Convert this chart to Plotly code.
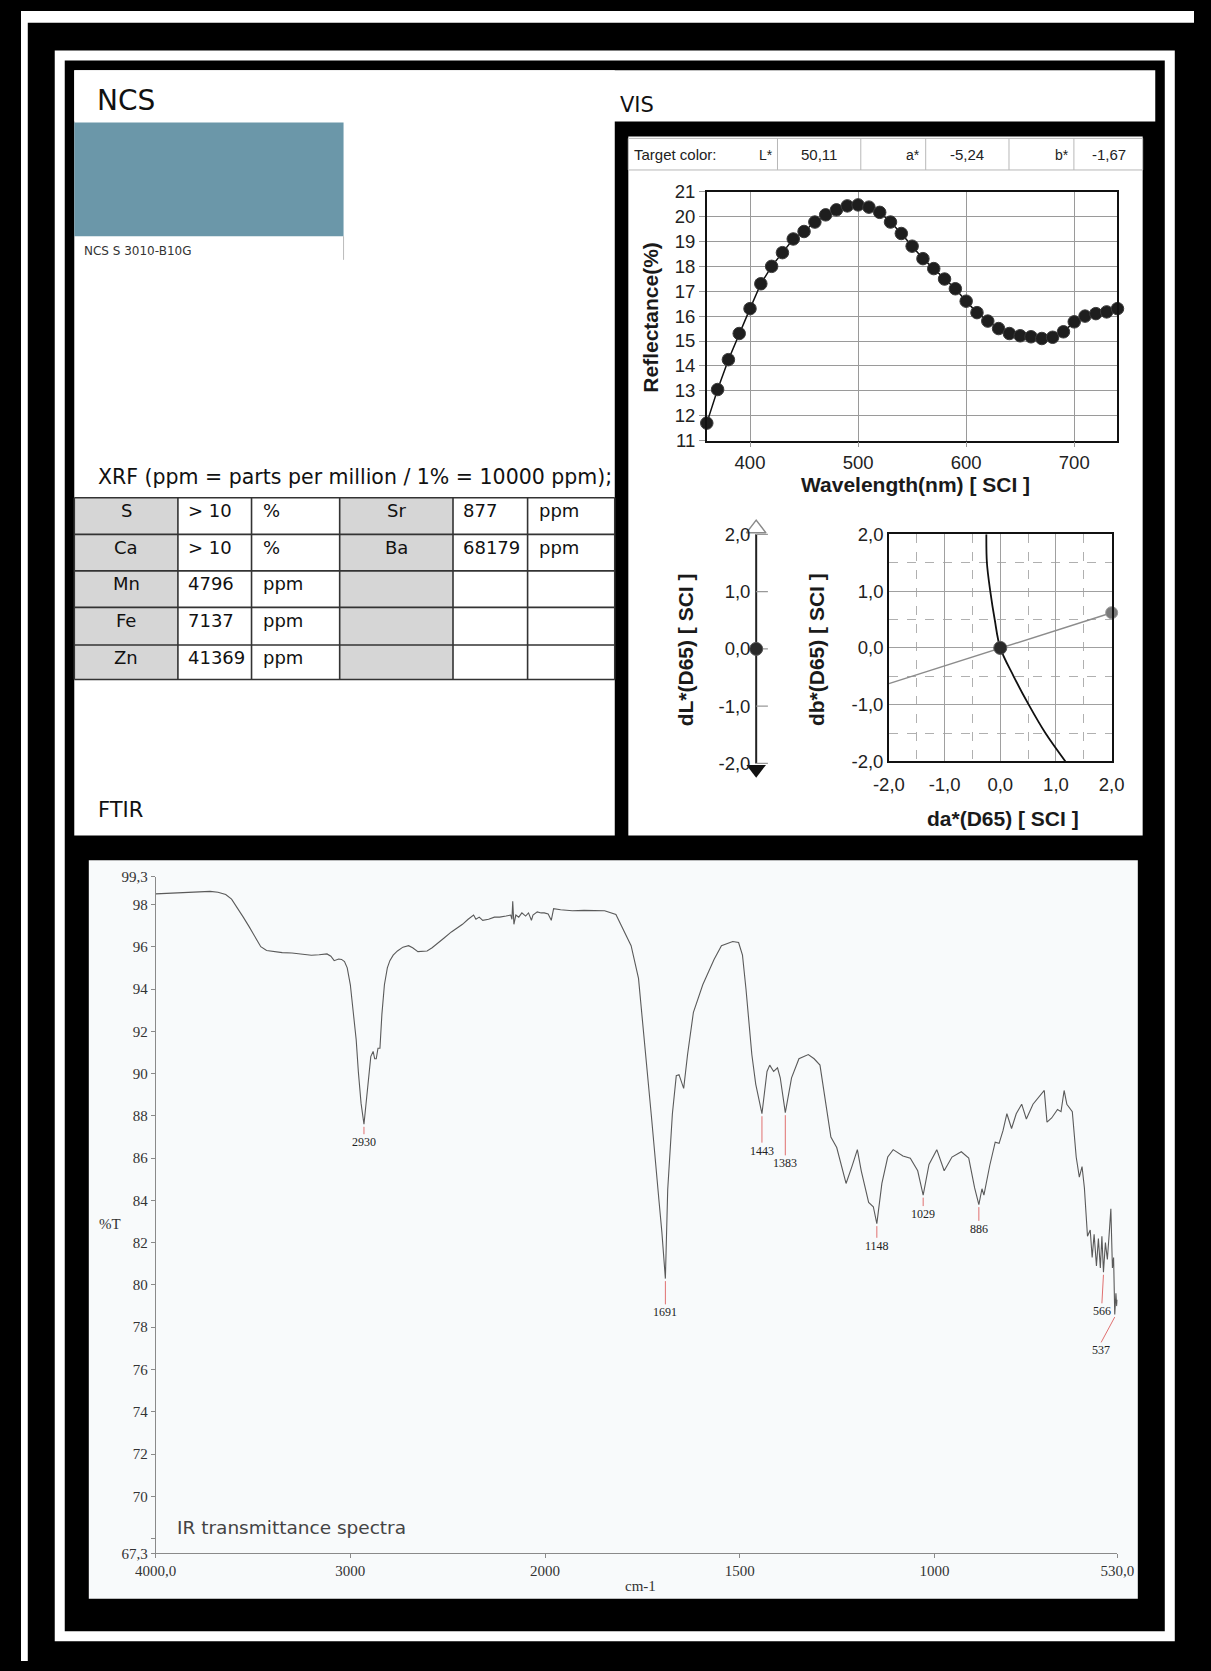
import plotly.graph_objects as go

W, H = 1211, 1671

# ---------------- data ----------------
ncs_code = "NCS S 3010-B10G"
xrf_title = "XRF (ppm = parts per million / 1% = 10000 ppm);"
xrf_elem_a = ["S", "Ca", "Mn", "Fe", "Zn"]
xrf_val_a = ["> 10", "> 10", "4796", "7137", "41369"]
xrf_unit_a = ["%", "%", "ppm", "ppm", "ppm"]
xrf_elem_b = ["Sr", "Ba", "", "", ""]
xrf_val_b = ["877", "68179", "", "", ""]
xrf_unit_b = ["ppm", "ppm", "", "", ""]

target_labels = ["L*", "a*", "b*"]
target_values = ["50,11", "-5,24", "-1,67"]

vis_wavelength = [360, 370, 380, 390, 400, 410, 420, 430, 440, 450, 460, 470, 480,
                  490, 500, 510, 520, 530, 540, 550, 560, 570, 580, 590, 600, 610,
                  620, 630, 640, 650, 660, 670, 680, 690, 700, 710, 720, 730, 740]
vis_reflectance = [11.7, 13.05, 14.25, 15.3, 16.3, 17.3, 18.0, 18.55, 19.1, 19.4,
                   19.78, 20.07, 20.27, 20.43, 20.47, 20.38, 20.17, 19.78, 19.32, 18.81,
                   18.31, 17.91, 17.49, 17.1, 16.6, 16.14, 15.8, 15.5, 15.3, 15.21,
                   15.17, 15.1, 15.15, 15.37, 15.77, 16.0, 16.1, 16.17, 16.3]

dL_value = [0.0]
da_value = [0.0]
db_value = [0.0]
hue_da = [-2.0, 2.0]
hue_db = [-0.63, 0.62]
chroma_da = [-0.25, -0.24, -0.18, -0.10, 0.0, 0.24, 0.51, 0.81, 1.17]
chroma_db = [2.0, 1.5, 1.0, 0.5, 0.0, -0.5, -1.0, -1.5, -2.0]
delta_ticks = [-2, -1, 0, 1, 2]
delta_ticktext = ["-2,0", "-1,0", "0,0", "1,0", "2,0"]

ftir_wn = [4000, 3900, 3800, 3720, 3680, 3640, 3610, 3580, 3550, 3520, 3490, 3460, 3430,
           3400, 3350, 3300, 3250, 3200, 3160, 3120, 3100, 3083, 3060, 3045, 3030, 3016,
           3000, 2988, 2970, 2959, 2945, 2930, 2918, 2906, 2895, 2883, 2875, 2867, 2858,
           2848, 2838, 2825, 2810, 2797, 2780, 2758, 2730, 2701, 2680, 2653, 2630, 2606,
           2580, 2558, 2520, 2481, 2450, 2424, 2395, 2367, 2355, 2338, 2320, 2290, 2260,
           2233, 2200, 2176, 2170, 2166, 2160, 2150, 2135, 2119, 2100, 2085, 2070, 2062,
           2040, 2020, 2004, 1992, 1984, 1978, 1960, 1930, 1900, 1870, 1847, 1818, 1799,
           1779, 1760, 1745, 1726, 1707, 1700, 1691, 1685, 1673, 1663, 1656, 1650, 1644,
           1634, 1619, 1595, 1566, 1547, 1518, 1503, 1493, 1484, 1469, 1459, 1447, 1443,
           1430, 1423, 1413, 1403, 1396, 1383, 1367, 1348, 1324, 1309, 1294, 1280, 1266,
           1251, 1227, 1212, 1198, 1188, 1169, 1157, 1148, 1135, 1120, 1106, 1081, 1062,
           1043, 1029, 1014, 994, 975, 955, 931, 912, 897, 886, 878, 873, 858, 844, 834,
           824, 814, 802, 790, 776, 764, 747, 732, 718, 711, 699, 684, 675, 667, 660, 646,
           636, 628, 621, 615, 607, 600, 595, 590, 584, 579, 574, 570, 566, 561, 556, 551,
           547, 543, 540, 537, 534, 532, 530]
ftir_T = [98.5, 98.55, 98.6, 98.62, 98.58, 98.47, 98.25, 97.85, 97.4, 96.95, 96.5, 96.0, 95.82,
          95.77, 95.72, 95.7, 95.66, 95.6, 95.62, 95.66, 95.55, 95.34, 95.42, 95.4, 95.3, 95.0,
          94.2, 93.2, 91.6, 90.1, 88.6, 87.6, 88.8, 89.8, 90.8, 91.05, 90.7, 90.7, 91.2,
          91.2, 92.8, 94.2, 95.0, 95.34, 95.6, 95.8, 95.98, 96.05, 95.95, 95.77, 95.8, 95.8,
          95.95, 96.1, 96.4, 96.7, 96.9, 97.06, 97.3, 97.5, 97.3, 97.4, 97.25, 97.3, 97.4,
          97.4, 97.45, 97.5, 97.3, 98.15, 97.06, 97.5, 97.4, 97.6, 97.45, 97.6, 97.25, 97.5,
          97.65, 97.6, 97.6, 97.55, 97.25, 97.8, 97.75, 97.7, 97.72, 97.7, 97.7, 97.53, 96.8,
          96.05, 94.5, 91.7, 87.8, 83.9, 82.5, 80.3, 84.5, 88.1, 89.9, 89.95, 89.6, 89.3,
          90.9, 92.9, 94.2, 95.4, 96.05, 96.25, 96.2, 95.6, 94.0, 90.9, 89.5, 88.4, 88.1,
          90.1, 90.4, 90.1, 90.27, 89.8, 88.15, 89.8, 90.7, 90.9, 90.7, 90.4, 88.7, 87.0,
          86.5, 84.8, 85.6, 86.4, 85.4, 83.9, 83.7, 82.9, 84.8, 86.05, 86.4, 86.1, 86.0,
          85.4, 84.25, 85.7, 86.4, 85.4, 86.05, 86.3, 86.0, 84.6, 83.8, 84.55, 84.25, 85.65,
          86.75, 86.7, 87.3, 88.1, 87.4, 88.1, 88.55, 87.85, 88.55, 88.86, 89.2, 87.7, 87.9,
          88.3, 88.2, 89.2, 88.55, 88.2, 86.05, 85.1, 85.6, 84.6, 82.3, 82.6, 81.3, 82.4,
          80.9, 82.2, 80.8, 82.3, 80.6, 82.0, 81.2, 82.5, 83.6, 80.8, 81.3, 78.6, 79.6, 79.0,
          79.3]
peak_wn = [2930, 1691, 1443, 1383, 1148, 1029, 886, 566, 537]
peak_T = [87.6, 80.3, 88.1, 88.15, 82.9, 84.25, 83.8, 80.6, 78.6]
peak_label_wn = [2930, 1691, 1443, 1383, 1148, 1029, 886, 570, 572]
peak_label_T = [86.75, 78.7, 86.35, 85.75, 81.85, 83.35, 82.65, 78.75, 76.9]

ftir_xticks = [4000, 3000, 2000, 1500, 1000, 530]
ftir_xticktext = ["4000,0", "3000", "2000", "1500", "1000", "530,0"]
ftir_yticks = [67.3, 68, 70, 72, 74, 76, 78, 80, 82, 84, 86, 88, 90, 92, 94, 96, 98, 99.3]
ftir_yticktext = ["67,3", "", "70", "72", "74", "76", "78", "80", "82", "84", "86", "88",
                  "90", "92", "94", "96", "98", "99,3"]


# ---------------- helpers ----------------
def px(x):
    return x / W


def py(y):
    return 1 - y / H


def wn_to_u(wn):
    # FTIR abscissa: scale doubles below 2000 cm-1
    if wn is None:
        return None
    return 4000 - wn if wn >= 2000 else 2000 + 2 * (2000 - wn)


shapes = []
annotations = []


def rect(x0, y0, x1, y1, fill, line_color=None, lw=0):
    shapes.append(dict(type="rect", xref="paper", yref="paper", layer="below",
                       x0=px(x0), x1=px(x1), y0=py(y1), y1=py(y0),
                       fillcolor=fill, line=dict(width=lw, color=line_color or "rgba(0,0,0,0)")))


def seg(x0, y0, x1, y1, color, lw=1, dash="solid"):
    shapes.append(dict(type="line", xref="paper", yref="paper", layer="below",
                       x0=px(x0), x1=px(x1), y0=py(y0), y1=py(y1),
                       line=dict(width=lw, color=color, dash=dash)))


def txt(x, y, s, size, color="#111", family="DejaVu Sans", xanchor="left", angle=0, bold=False):
    annotations.append(dict(x=px(x), y=py(y), xref="paper", yref="paper",
                            text=f"<b>{s}</b>" if bold else s, showarrow=False,
                            font=dict(size=size, color=color, family=family),
                            xanchor=xanchor, yanchor="middle", textangle=angle,
                            borderpad=0))


# ---------------- background panels ----------------
rect(0, 0, W, 12, "white")
rect(0, 0, 7, H, "white")
shapes.append(dict(type="rect", xref="paper", yref="paper", layer="below",
                   x0=px(40), x1=px(1186), y0=py(1646), y1=py(45),
                   fillcolor="rgba(0,0,0,0)", line=dict(width=10, color="white")))
rect(55, 60, 613, 835, "white")
rect(55, 60, 1171, 112, "white")
rect(627, 127, 1158, 835, "white")
rect(70, 860, 1153, 1608, "#f8fafb")

# NCS swatch
rect(55, 113, 333, 228, "#6b97a9")
seg(333, 228, 333, 252, "#bbbbbb", 1)
txt(77, 91, "NCS", 28)
txt(64, 243, ncs_code, 12, "#333")
txt(617, 95, "VIS", 21)

# XRF table
txt(78, 472, xrf_title, 20.5)
row_tops = [493, 530, 567, 604, 642, 677]
col_edges = [55, 162, 238, 329, 446, 523, 613]
rect(col_edges[0], row_tops[0], col_edges[1], row_tops[-1], "#d6d6d6")
rect(col_edges[3], row_tops[0], col_edges[4], row_tops[-1], "#d6d6d6")
for yy in row_tops:
    seg(55, yy, 613, yy, "#333", 1.6)
for xx in col_edges:
    seg(xx, row_tops[0], xx, row_tops[-1], "#333", 1.6)
for i in range(5):
    ty = row_tops[i] + 13
    txt((col_edges[0] + col_edges[1]) / 2, ty, xrf_elem_a[i], 18, "#111", xanchor="center")
    txt(col_edges[1] + 9, ty, xrf_val_a[i], 18, "#111")
    txt(col_edges[2] + 11, ty, xrf_unit_a[i], 18, "#111")
    if xrf_elem_b[i]:
        txt((col_edges[3] + col_edges[4]) / 2, ty, xrf_elem_b[i], 18, "#111", xanchor="center")
        txt(col_edges[4] + 9, ty, xrf_val_b[i], 18, "#111")
        txt(col_edges[5] + 11, ty, xrf_unit_b[i], 18, "#111")
txt(78, 809, "FTIR", 21)

# Target color table
rect(627, 129, 1158, 161, "white", "#b8b8b8", 1)
for xx in [781, 867, 934, 1020, 1087]:
    seg(xx, 129, xx, 161, "#b8b8b8", 1)
AR = "Liberation Sans"
txt(632, 145, "Target color:", 15, "#222", AR)
lab_right = [777, 929, 1083]
val_center = [824, 977, 1123]
for k in range(3):
    txt(lab_right[k], 146, target_labels[k], 14, "#222", AR, xanchor="right")
    txt(val_center[k], 145, target_values[k], 15, "#222", AR, xanchor="center")

# axis titles (VIS)
txt(650, 310, "Reflectance(%)", 21, "#1a1a1a", AR, xanchor="center", angle=-90, bold=True)
txt(923, 480, "Wavelength(nm) [ SCI ]", 21, "#1a1a1a", AR, xanchor="center", bold=True)
txt(686, 647, "dL*(D65) [ SCI ]", 21, "#1a1a1a", AR, xanchor="center", angle=-90, bold=True)
txt(822, 647, "db*(D65) [ SCI ]", 21, "#1a1a1a", AR, xanchor="center", angle=-90, bold=True)
txt(1014, 818, "da*(D65) [ SCI ]", 21, "#1a1a1a", AR, xanchor="center", bold=True)

# FTIR texts
TM = "Liberation Serif"
txt(80, 1228, "%T", 15, "#333", TM)
txt(640, 1595, "cm-1", 15, "#333", TM, xanchor="center")
txt(160, 1536, "IR transmittance spectra", 18.5, "#444")

fig = go.Figure()

# ---------------- VIS reflectance ----------------
fig.add_trace(go.Scatter(x=vis_wavelength, y=vis_reflectance, mode="lines+markers",
                         line=dict(color="#111", width=1.5),
                         marker=dict(size=12.5, color="#1e1e1e", line=dict(color="#3a3a3a", width=1)),
                         cliponaxis=False, xaxis="x", yaxis="y", showlegend=False))

# ---------------- dL scale ----------------
fig.add_trace(go.Scatter(x=[0, 0], y=[-2, 2], mode="lines", line=dict(color="#222", width=2),
                         xaxis="x2", yaxis="y2", showlegend=False, cliponaxis=False))
tick_x, tick_y = [], []
for t in delta_ticks:
    tick_x += [0, 0.55, None]
    tick_y += [t, t, None]
fig.add_trace(go.Scatter(x=tick_x, y=tick_y, mode="lines", line=dict(color="#999", width=1.2),
                         xaxis="x2", yaxis="y2", showlegend=False, cliponaxis=False))
fig.add_trace(go.Scatter(x=[0], y=[2.1], mode="markers",
                         marker=dict(symbol="triangle-up", size=17, color="white",
                                     line=dict(color="#8a8a8a", width=1.5)),
                         xaxis="x2", yaxis="y2", showlegend=False, cliponaxis=False))
fig.add_trace(go.Scatter(x=[0], y=[-2.1], mode="markers",
                         marker=dict(symbol="triangle-down", size=17, color="#111"),
                         xaxis="x2", yaxis="y2", showlegend=False, cliponaxis=False))
fig.add_trace(go.Scatter(x=[0 for _ in dL_value], y=dL_value, mode="markers",
                         marker=dict(size=13, color="#2a2a2a", line=dict(color="#555", width=1)),
                         xaxis="x2", yaxis="y2", showlegend=False, cliponaxis=False))

# ---------------- da/db plane ----------------
fig.add_trace(go.Scatter(x=hue_da, y=hue_db, mode="lines", line=dict(color="#8c8c8c", width=1.5),
                         xaxis="x3", yaxis="y3", showlegend=False))
fig.add_trace(go.Scatter(x=chroma_da, y=chroma_db, mode="lines", line=dict(color="#111", width=1.8, shape="spline"),
                         xaxis="x3", yaxis="y3", showlegend=False))
fig.add_trace(go.Scatter(x=[hue_da[-1]], y=[hue_db[-1]], mode="markers",
                         marker=dict(size=12, color="#7a7a7a", line=dict(color="#999", width=1)),
                         xaxis="x3", yaxis="y3", showlegend=False, cliponaxis=False))
fig.add_trace(go.Scatter(x=[0], y=[2.07], mode="markers",
                         marker=dict(symbol="triangle-up", size=16, color="#d4d4dc",
                                     line=dict(color="#999", width=1.2)),
                         xaxis="x3", yaxis="y3", showlegend=False, cliponaxis=False))
fig.add_trace(go.Scatter(x=[0, -2.08, 2.1], y=[-2.1, 0, 0], mode="markers",
                         marker=dict(symbol=["triangle-down", "triangle-left", "triangle-right"],
                                     size=17, color="#111"),
                         xaxis="x3", yaxis="y3", showlegend=False, cliponaxis=False))
fig.add_trace(go.Scatter(x=da_value, y=db_value, mode="markers",
                         marker=dict(size=13, color="#2a2a2a", line=dict(color="#555", width=1)),
                         xaxis="x3", yaxis="y3", showlegend=False, cliponaxis=False))

# ---------------- FTIR ----------------
fig.add_trace(go.Scatter(x=[wn_to_u(w) for w in ftir_wn], y=ftir_T, mode="lines",
                         line=dict(color="#5a5a5a", width=1.1),
                         xaxis="x4", yaxis="y4", showlegend=False))
lx, ly = [], []
for w, t, lw_, lt in zip(peak_wn, peak_T, peak_label_wn, peak_label_T):
    lx += [wn_to_u(w), wn_to_u(lw_), None]
    ly += [t - 0.12, lt + 0.38, None]
fig.add_trace(go.Scatter(x=lx, y=ly, mode="lines", line=dict(color="#e07070", width=1),
                         xaxis="x4", yaxis="y4", showlegend=False))
for w, lw_, lt in zip(peak_wn, peak_label_wn, peak_label_T):
    annotations.append(dict(x=wn_to_u(lw_), y=lt, xref="x4", yref="y4", text=str(w),
                            showarrow=False, font=dict(size=12, color="#222", family=TM),
                            xanchor="center", yanchor="middle"))

tickfont_ar = dict(family=AR, size=18.5, color="#222")
tickfont_tm = dict(family=TM, size=15, color="#333")

fig.update_layout(
    width=W, height=H, autosize=False,
    margin=dict(l=0, r=0, t=0, b=0),
    paper_bgcolor="black", plot_bgcolor="rgba(0,0,0,0)",
    shapes=shapes, annotations=annotations,
    xaxis=dict(domain=[px(708), px(1132)], range=[360, 740], tickvals=[400, 500, 600, 700],
               showgrid=True, gridcolor="#9a9a9a", gridwidth=1, zeroline=False,
               showline=True, mirror=True, linecolor="#111", linewidth=1.5,
               ticks="outside", ticklen=5, tickcolor="#999", tickfont=tickfont_ar,
               anchor="y"),
    yaxis=dict(domain=[py(435), py(183)], range=[11, 21], dtick=1,
               showgrid=True, gridcolor="#9a9a9a", gridwidth=1, zeroline=False,
               showline=True, mirror=True, linecolor="#111", linewidth=1.5,
               ticks="outside", ticklen=6, tickcolor="#999", tickfont=tickfont_ar,
               anchor="x"),
    xaxis2=dict(domain=[px(737), px(781)], range=[-1, 1], visible=False, anchor="y2"),
    yaxis2=dict(domain=[py(646 + 2.3 * 58), py(646 - 2.3 * 58)], range=[-2.3, 2.3],
                tickvals=delta_ticks, ticktext=delta_ticktext, anchor="free",
                position=px(753), side="left", showgrid=False, zeroline=False,
                showline=False, ticks="", tickfont=tickfont_ar),
    xaxis3=dict(domain=[px(896), px(1126)], range=[-2, 2], tickvals=delta_ticks,
                ticktext=delta_ticktext, showgrid=True, gridcolor="#a0a0a0", gridwidth=1,
                minor=dict(dtick=0.5, tick0=0, showgrid=True, gridcolor="#b0b0b0",
                           griddash="dash", gridwidth=1),
                zeroline=False, showline=True, mirror=True, linecolor="#111", linewidth=1.5,
                ticks="", tickfont=tickfont_ar, ticklabelstandoff=6, anchor="y3"),
    yaxis3=dict(domain=[py(760), py(530)], range=[-2, 2], tickvals=delta_ticks,
                ticktext=delta_ticktext, showgrid=True, gridcolor="#a0a0a0", gridwidth=1,
                minor=dict(dtick=0.5, tick0=0, showgrid=True, gridcolor="#b0b0b0",
                           griddash="dash", gridwidth=1),
                zeroline=False, showline=True, mirror=True, linecolor="#111", linewidth=1.5,
                ticks="", tickfont=tickfont_ar, anchor="x3"),
    xaxis4=dict(domain=[px(139), px(1132)], range=[0, wn_to_u(530)],
                tickvals=[wn_to_u(v) for v in ftir_xticks], ticktext=ftir_xticktext,
                showgrid=False, zeroline=False, showline=True, linecolor="#8a8a8a", linewidth=1,
                ticks="outside", ticklen=4, tickcolor="#8a8a8a", tickfont=tickfont_tm,
                anchor="y4"),
    yaxis4=dict(domain=[py(1562), py(877)], range=[67.3, 99.3],
                tickvals=ftir_yticks, ticktext=ftir_yticktext,
                showgrid=False, zeroline=False, showline=True, linecolor="#8a8a8a", linewidth=1,
                ticks="outside", ticklen=4, tickcolor="#8a8a8a", tickfont=tickfont_tm,
                anchor="x4"),
)

fig.write_html(
    "out.html",
    post_script=("document.documentElement.style.margin='0';document.body.style.margin='0';"
                 "document.body.style.padding='0';document.documentElement.style.overflow='hidden';"
                 "document.body.style.overflow='hidden';"),
)
